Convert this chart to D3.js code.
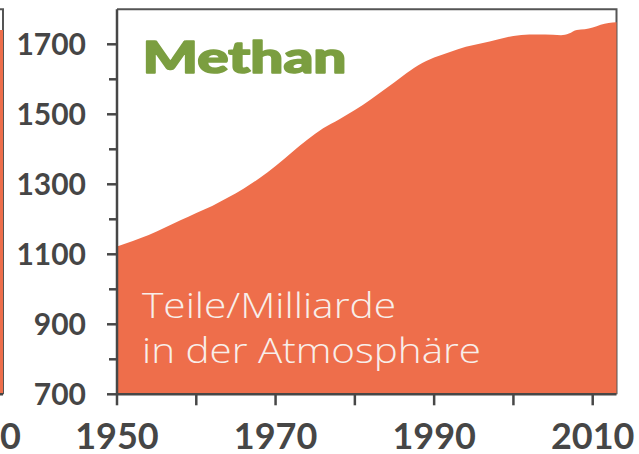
<!DOCTYPE html>
<html>
<head>
<meta charset="utf-8">
<script src="https://cdn.jsdelivr.net/npm/d3@7"></script>
<style>
  body { margin: 0; background: #fff; }
  svg { display: block; }
  .tick-label { font-family: Lato, sans-serif; font-weight: 700; fill: #464646; }
</style>
</head>
<body>
<svg id="chart" width="639" height="454"></svg>
<script>
"use strict";

// methane concentration (ppb)
const years = [1950, 1952, 1954, 1956, 1958, 1960, 1962, 1964, 1966, 1968,
  1970, 1972, 1974, 1976, 1978, 1980, 1982, 1984, 1986, 1988,
  1990, 1992, 1994, 1996, 1998, 2000, 2002, 2004, 2006, 2007,
  2008, 2009, 2010, 2011, 2012, 2013]
const methane = [1122, 1138, 1155, 1176, 1197, 1218, 1238, 1262, 1288, 1318,
  1352, 1390, 1427, 1460, 1485, 1512, 1542, 1575, 1609, 1640,
  1662, 1678, 1693, 1703, 1714, 1724, 1728, 1728, 1726, 1731,
  1741, 1743, 1748, 1756, 1761, 1763]

const yTicks = [700, 800, 900, 1000, 1100, 1200, 1300, 1400, 1500, 1600, 1700]
const yLabels = [700, 900, 1100, 1300, 1500, 1700]
const xTicks = [1950, 1960, 1970, 1980, 1990, 2000, 2010]
const xLabels = [1950, 1970, 1990, 2010]

// edge of the previous panel, cut off on the left
const prevYears = [2012, 2013]
const prevValues = [1741, 1741]

const title = "Methan"
const unitLines = ["Teile/Milliarde", "in der Atmosphäre"]
const unitWidths = [254, 339]

const orange = "#ee6e4b"
const green = "#7b9e40"
const axisColor = "#474747"

const svg = d3.select("#chart")

const x = d3.scaleLinear().domain([1950, 2013]).range([117, 616.5])
const y = d3.scaleLinear().domain([700, 1800]).range([394.3, 9.3])

/**
 * Draws one panel (frame, area, axes) into the group g.
 */
function panel(g, xs, vs, withLabels) {
  const data = xs.map((d, i) => ({ year: d, v: vs[i] }))

  // top and right frame, behind the area
  g.append("path")
    .attr("d", `M${x.range()[0]},${y(1800)}H${x.range()[1]}V${y(700)}`)
    .attr("fill", "none")
    .attr("stroke", "#555")
    .attr("stroke-width", 2)

  const area = d3.area()
    .x(d => x(d.year))
    .y0(y(700))
    .y1(d => y(d.v))
    .curve(d3.curveMonotoneX)

  g.append("path")
    .datum(data)
    .attr("d", area)
    .attr("fill", orange)

  // left axis
  const yAxis = g.append("g").attr("transform", `translate(${x.range()[0]},0)`)
  yAxis.append("line")
    .attr("y1", y(1800)).attr("y2", y(700))
    .attr("stroke", axisColor).attr("stroke-width", 2.5)
  yAxis.selectAll(".ytick")
    .data(yTicks)
    .enter()
    .append("line")
    .attr("class", "ytick")
    .attr("x1", t => yLabels.includes(t) ? -10 : -8)
    .attr("x2", 0)
    .attr("y1", t => y(t)).attr("y2", t => y(t))
    .attr("stroke", axisColor).attr("stroke-width", 2.5)

  // bottom axis
  const xAxis = g.append("g").attr("transform", `translate(0,${y(700)})`)
  xAxis.append("line")
    .attr("x1", x.range()[0] - 1).attr("x2", x.range()[1])
    .attr("stroke", axisColor).attr("stroke-width", 2.5)
  xAxis.selectAll(".xtick")
    .data(xTicks)
    .enter()
    .append("line")
    .attr("class", "xtick")
    .attr("x1", t => x(t)).attr("x2", t => x(t))
    .attr("y1", 0).attr("y2", 11)
    .attr("stroke", axisColor).attr("stroke-width", 2.5)

  xAxis.selectAll(".xlabel")
    .data(xLabels)
    .enter()
    .append("text")
    .attr("class", "tick-label")
    .attr("x", t => x(t))
    .attr("y", 55)
    .attr("text-anchor", "middle")
    .style("font-size", "36px")
    .text(t => t)

  if (withLabels) {
    g.selectAll(".ylabel")
      .data(yLabels)
      .enter()
      .append("text")
      .attr("class", "tick-label")
      .attr("x", 86)
      .attr("y", t => y(t) + 11)
      .attr("text-anchor", "end")
      .style("font-size", "30px")
      .text(t => t)
  }
}

// previous panel, shifted left so only its right edge shows
const prev = svg.append("g").attr("transform", "translate(-613.5,0)")
panel(prev, prevYears, prevValues, false)

const main = svg.append("g")
panel(main, years, methane, true)

// the original typeface is much wider, so stretch to its width
main.append("text")
  .attr("x", 142.5)
  .attr("y", 73)
  .attr("textLength", 204)
  .attr("lengthAdjust", "spacingAndGlyphs")
  .style("font-family", "Lato, sans-serif")
  .style("font-weight", 900)
  .style("font-size", "43px")
  .attr("fill", green)
  .attr("stroke", green)
  .attr("stroke-width", 1.6)
  .attr("stroke-linejoin", "round")
  .text(title)

main.selectAll(".unit")
  .data(unitLines)
  .enter()
  .append("text")
  .attr("class", "unit")
  .attr("x", 142)
  .attr("y", (_, i) => 318 + i * 45)
  .attr("textLength", (_, i) => unitWidths[i])
  .attr("lengthAdjust", "spacingAndGlyphs")
  .style("font-family", "'Open Sans', sans-serif")
  .style("font-weight", 300)
  .style("font-size", "34px")
  .attr("fill", "#f8eeea")
  .text(s => s)
</script>
</body>
</html>
